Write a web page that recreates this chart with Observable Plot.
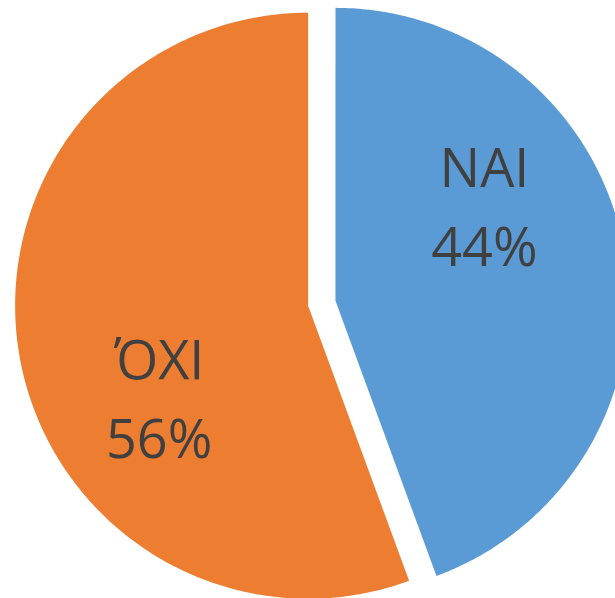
<!DOCTYPE html>
<html>
<head>
<meta charset="utf-8">
<script src="https://cdn.jsdelivr.net/npm/d3@7"></script>
<script src="https://cdn.jsdelivr.net/npm/@observablehq/plot@0.6"></script>
<style>
  html, body { margin: 0; padding: 0; background: #fff; overflow: hidden; }
  #chart svg { display: block; }
</style>
</head>
<body>
<div id="chart"></div>
<script>
// ---- data ----
const categories = ["NAI", "ΌΧΙ"];
const values = [44.4, 55.6];
const colors = ["#5B9BD5", "#ED7D31"];

// ---- layout / style ----
const W = 615, H = 598;
const cx = 321.3, cy = 302.8, R = 293;   // pixel centre & radius of the pie
const explode = 0.0474;                  // slice offset, in radius units
const labelR = 0.6, labelTurn = -22;     // label placement within each slice (deg)

const total = d3.sum(values);
const toRad = Math.PI / 180;
const slices = [];
let start = 0;
values.forEach((v, i) => {
  const sweep = v / total * 360;
  slices.push({cat: categories[i], value: v, a0: start, a1: start + sweep, pct: Math.round(v / total * 100)});
  start += sweep;
});

// polygon points for each slice (angle clockwise from 12 o'clock, y up)
const pts = [];
const labels = [];
for (const s of slices) {
  const mid = (s.a0 + s.a1) / 2 * toRad;
  const ox = explode * Math.sin(mid), oy = explode * Math.cos(mid);
  pts.push({cat: s.cat, x: ox, y: oy});
  const n = 240;
  for (let k = 0; k <= n; k++) {
    const a = (s.a0 + (s.a1 - s.a0) * k / n) * toRad;
    pts.push({cat: s.cat, x: ox + Math.sin(a), y: oy + Math.cos(a)});
  }
  pts.push({cat: s.cat, x: ox, y: oy});
  const la = ((s.a0 + s.a1) / 2 + labelTurn) * toRad;
  labels.push({cat: s.cat, x: ox + labelR * Math.sin(la), y: oy + labelR * Math.cos(la), text: `${s.cat}\n${s.pct}%`});
}

const chart = Plot.plot({
  width: W,
  height: H,
  margin: 0,
  x: {domain: [-1, 1], range: [cx - R, cx + R], axis: null},
  y: {domain: [-1, 1], range: [cy + R, cy - R], axis: null},
  color: {domain: categories, range: colors},
  style: {background: "#fff", fontFamily: "'Open Sans', sans-serif"},
  marks: [
    Plot.line(pts, {x: "x", y: "y", z: "cat", fill: "cat", stroke: null, curve: "linear", clip: "frame"}),
    Plot.text(labels, {x: "x", y: "y", text: "text", fill: "#404040", fontSize: 54, lineHeight: 1.46, lineAnchor: "middle", textAnchor: "middle", dy: -6})
  ]
});
document.getElementById("chart").appendChild(chart);
</script>
</body>
</html>
